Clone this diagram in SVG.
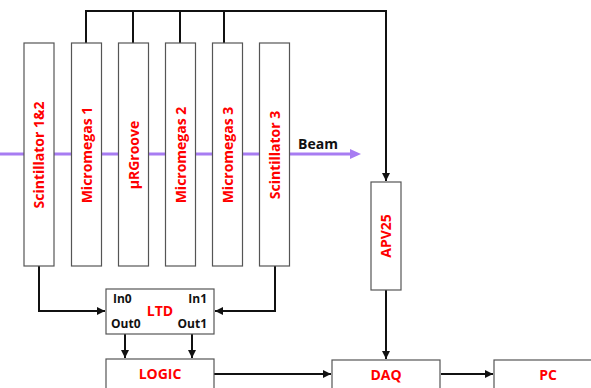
<svg xmlns="http://www.w3.org/2000/svg" width="591" height="388" viewBox="0 0 591 388">
<defs>
<style>
.box{fill:#fff;stroke:#555;stroke-width:1.2}
.lbl{font-family:"Open Sans","Noto Sans",sans-serif;font-weight:bold;font-size:14px;fill:#ff0000;text-anchor:middle}
.port{font-family:"Open Sans","Noto Sans",sans-serif;font-weight:bold;font-size:12px;fill:#111}
.wire{fill:none;stroke:#111;stroke-width:2}
</style>
<marker id="ah" viewBox="0 0 10 10" refX="10" refY="5" markerWidth="4" markerHeight="4" orient="auto" markerUnits="strokeWidth">
<path d="M0,0 L10,5 L0,10 z" fill="#111"/>
</marker>
</defs>
<rect width="591" height="388" fill="#fff"/>
<g id="beam">
<line x1="0" y1="154" x2="351" y2="154" stroke="#a77cf2" stroke-width="3"/>
<path d="M350,149 L361,154 L350,159 z" fill="#a77cf2"/>
<text x="298" y="149" font-family="'Open Sans','Noto Sans',sans-serif" font-weight="bold" font-size="14" fill="#111">Beam</text>
</g>
<g id="connectors">
<path class="wire" d="M86,43 V11 H386 V181" marker-end="url(#ah)"/>
<path class="wire" d="M133,43 V11"/>
<path class="wire" d="M180,43 V11"/>
<path class="wire" d="M224,43 V11"/>
<path class="wire" d="M39,266 V311 H105" marker-end="url(#ah)"/>
<path class="wire" d="M275,266 V311 H215" marker-end="url(#ah)"/>
<path class="wire" d="M125,334 V358" marker-end="url(#ah)"/>
<path class="wire" d="M192,334 V358" marker-end="url(#ah)"/>
<path class="wire" d="M214,374 H331" marker-end="url(#ah)"/>
<path class="wire" d="M386,290 V359" marker-end="url(#ah)"/>
<path class="wire" d="M441,374 H493" marker-end="url(#ah)"/>
</g>
<g id="scint12"><rect class="box" x="24" y="43" width="30" height="223"/><text class="lbl" transform="translate(44,155) rotate(-90)">Scintillator 1&amp;2</text></g>
<g id="mm1"><rect class="box" x="71.5" y="43" width="30" height="223"/><text class="lbl" transform="translate(91.5,155) rotate(-90)">Micromegas 1</text></g>
<g id="urgroove"><rect class="box" x="118.5" y="43" width="30" height="223"/><text class="lbl" transform="translate(138.5,155) rotate(-90)">µRGroove</text></g>
<g id="mm2"><rect class="box" x="165.5" y="43" width="30" height="223"/><text class="lbl" transform="translate(185.5,155) rotate(-90)">Micromegas 2</text></g>
<g id="mm3"><rect class="box" x="212.5" y="43" width="30" height="223"/><text class="lbl" transform="translate(232.5,155) rotate(-90)">Micromegas 3</text></g>
<g id="scint3"><rect class="box" x="259.5" y="43" width="30" height="223"/><text class="lbl" transform="translate(279.5,155) rotate(-90)">Scintillator 3</text></g>
<g id="apv25"><rect class="box" x="371" y="182" width="30" height="108"/><text class="lbl" transform="translate(391,236) rotate(-90)">APV25</text></g>
<g id="ltd"><rect class="box" x="106" y="289" width="108" height="45"/>
<text class="lbl" x="160" y="316">LTD</text>
<text class="port" x="113" y="303">In0</text>
<text class="port" x="207" y="303" text-anchor="end">In1</text>
<text class="port" x="111" y="328">Out0</text>
<text class="port" x="207" y="328" text-anchor="end">Out1</text>
</g>
<g id="logic"><rect class="box" x="106" y="359" width="108" height="40"/><text class="lbl" x="160" y="379">LOGIC</text></g>
<g id="daq"><rect class="box" x="332" y="360" width="108" height="40"/><text class="lbl" x="386" y="380">DAQ</text></g>
<g id="pc"><rect class="box" x="494" y="360" width="108" height="40"/><text class="lbl" x="548" y="380">PC</text></g>
</svg>
